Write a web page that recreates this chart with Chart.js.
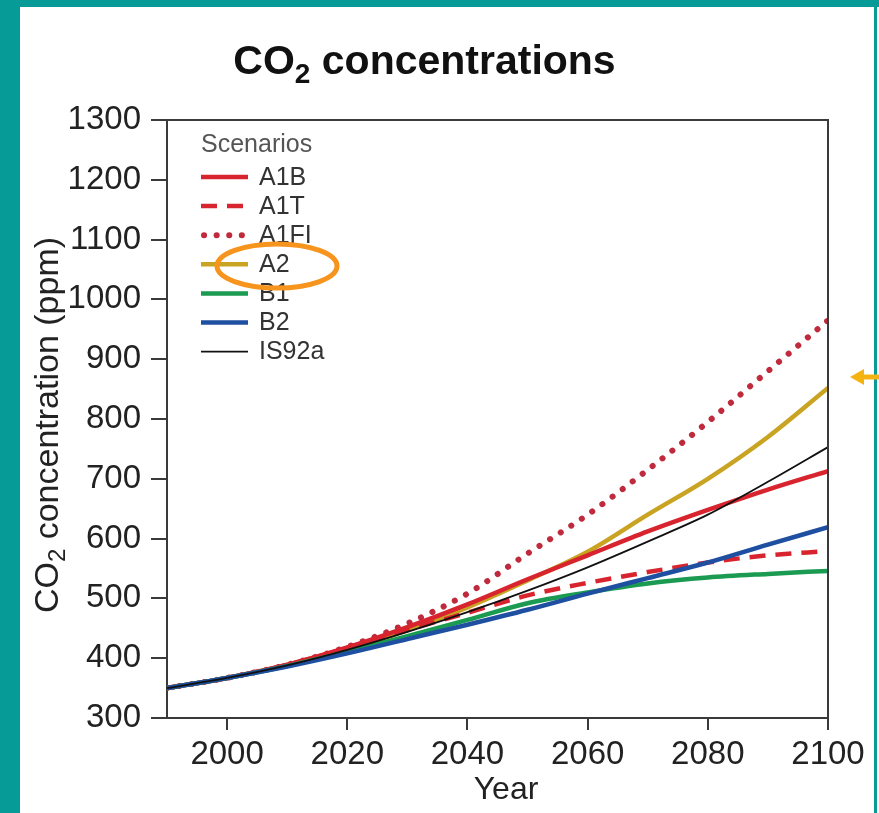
<!DOCTYPE html>
<html>
<head>
<meta charset="utf-8">
<script src="https://cdn.jsdelivr.net/npm/chart.js@4"></script>
<style>
html,body{margin:0;padding:0;background:#fff;}
#wrap{position:relative;width:879px;height:813px;}
canvas{display:block;}
</style>
</head>
<body>
<div id="wrap"><canvas id="c" width="879" height="813"></canvas></div>
<script>
// ---- data ----
const years = [1990, 2000, 2010, 2020, 2030, 2040, 2050, 2060, 2070, 2080, 2090, 2100];
const A1B   = [350, 367, 389, 418, 452, 490, 532, 572, 612, 648, 682, 713];
const A1T   = [350, 367, 389, 417, 447, 476, 505, 526, 544, 560, 572, 579];
const A1FI  = [350, 367, 389, 419, 458, 508, 575, 640, 715, 795, 880, 965];
const A2    = [350, 367, 388, 415, 447, 485, 530, 578, 640, 700, 770, 852];
const B1    = [350, 367, 387, 411, 437, 464, 492, 510, 525, 535, 541, 546];
const B2    = [350, 367, 386, 408, 432, 456, 481, 508, 534, 560, 590, 619];
const IS92a = [350, 367, 388, 414, 444, 477, 513, 552, 595, 640, 695, 753];

const xTicks = [2000, 2020, 2040, 2060, 2080, 2100];
const yTicks = [300, 400, 500, 600, 700, 800, 900, 1000, 1100, 1200, 1300];

const legendTitle = 'Scenarios';
const chartTitleMain = 'CO';
const chartTitleSub = '2';
const chartTitleRest = ' concentrations';
const yTitleMain = 'CO';
const yTitleSub = '2';
const yTitleRest = ' concentration (ppm)';
const xTitle = 'Year';

const FONT = "'Liberation Sans', Arial, Helvetica, sans-serif";

function pts(arr) { return years.map((y, i) => ({ x: y, y: arr[i] })); }

const datasets = [
  { label: 'A1B',   data: pts(A1B),   borderColor: '#d8242f', borderWidth: 4.5, borderDash: [], order: 4 },
  { label: 'A1T',   data: pts(A1T),   borderColor: '#d8242f', borderWidth: 4.5, borderDash: [16, 10], order: 3 },
  { label: 'A1FI',  data: pts(A1FI),  borderColor: '#bf2a3c', borderWidth: 6, borderDash: [0.1, 12.5], borderCapStyle: 'round', order: 6 },
  { label: 'A2',    data: pts(A2),    borderColor: '#c9a322', borderWidth: 4.5, borderDash: [], order: 5 },
  { label: 'B1',    data: pts(B1),    borderColor: '#1b9a52', borderWidth: 4.5, borderDash: [], order: 2 },
  { label: 'B2',    data: pts(B2),    borderColor: '#1f4fa0', borderWidth: 4.5, borderDash: [], order: 1 },
  { label: 'IS92a', data: pts(IS92a), borderColor: '#111111', borderWidth: 1.8, borderDash: [], order: 0 }
].map(d => Object.assign({ pointRadius: 0, fill: false, cubicInterpolationMode: 'monotone', tension: 0.4, borderCapStyle: d.borderCapStyle || 'butt' }, d));

const decor = {
  id: 'decor',
  beforeDraw(chart) {
    const ctx = chart.ctx;
    ctx.save();
    ctx.fillStyle = '#ffffff';
    ctx.fillRect(0, 0, chart.width, chart.height);
    ctx.fillStyle = '#079b98';
    ctx.fillRect(0, 0, 20, chart.height);
    ctx.fillRect(0, 0, chart.width, 7);
    ctx.fillRect(874, 0, 3, chart.height);
    ctx.restore();
  },
  afterDraw(chart) {
    const ctx = chart.ctx;
    const ca = chart.chartArea;
    ctx.save();
    // frame (top and right)
    ctx.strokeStyle = '#3a3a3a';
    ctx.lineWidth = 2;
    ctx.beginPath();
    ctx.moveTo(ca.left - 1, ca.top);
    ctx.lineTo(ca.right, ca.top);
    ctx.lineTo(ca.right, ca.bottom);
    ctx.stroke();

    // title with subscript
    ctx.fillStyle = '#111';
    ctx.textBaseline = 'alphabetic';
    ctx.textAlign = 'left';
    const fMain = 'bold 41px ' + FONT, fSub = 'bold 28px ' + FONT;
    ctx.font = fMain; const w1 = ctx.measureText(chartTitleMain).width; const w3 = ctx.measureText(chartTitleRest).width;
    ctx.font = fSub; const w2 = ctx.measureText(chartTitleSub).width;
    let tx = 424.5 - (w1 + w2 + w3) / 2; const ty = 74;
    ctx.font = fMain; ctx.fillText(chartTitleMain, tx, ty); tx += w1;
    ctx.font = fSub; ctx.fillText(chartTitleSub, tx, ty + 9); tx += w2;
    ctx.font = fMain; ctx.fillText(chartTitleRest, tx, ty);

    // y axis title (rotated)
    ctx.save();
    ctx.translate(46, 425);
    ctx.rotate(-Math.PI / 2);
    ctx.fillStyle = '#222';
    const yMain = '34px ' + FONT, ySub = '24px ' + FONT;
    ctx.font = yMain; const a1 = ctx.measureText(yTitleMain).width; const a3 = ctx.measureText(yTitleRest).width;
    ctx.font = ySub; const a2 = ctx.measureText(yTitleSub).width;
    let yx = -(a1 + a2 + a3) / 2; const yb = 12;
    ctx.font = yMain; ctx.fillText(yTitleMain, yx, yb); yx += a1;
    ctx.font = ySub; ctx.fillText(yTitleSub, yx, yb + 7); yx += a2;
    ctx.font = yMain; ctx.fillText(yTitleRest, yx, yb);
    ctx.restore();

    // x axis title
    ctx.fillStyle = '#222';
    ctx.font = '32px ' + FONT;
    ctx.textAlign = 'center';
    ctx.fillText(xTitle, 506, 799);

    // legend
    ctx.textAlign = 'left';
    ctx.textBaseline = 'middle';
    ctx.font = '25px ' + FONT;
    ctx.fillStyle = '#555';
    ctx.fillText(legendTitle, 201, 145);
    chart.data.datasets.forEach((ds, i) => {
      const y = 177 + i * 29.1;
      ctx.save();
      ctx.strokeStyle = ds.borderColor;
      ctx.lineWidth = ds.borderWidth;
      ctx.lineCap = ds.borderCapStyle || 'butt';
      ctx.setLineDash(ds.borderDash || []);
      ctx.beginPath();
      ctx.moveTo(ds.borderCapStyle === 'round' ? 204 : 201, y);
      ctx.lineTo(248, y);
      ctx.stroke();
      ctx.restore();
      ctx.fillStyle = '#333';
      ctx.fillText(ds.label, 259, y + 1);
    });

    // annotation: orange ellipse around A2
    ctx.strokeStyle = '#f7941d';
    ctx.lineWidth = 5;
    ctx.setLineDash([]);
    ctx.beginPath();
    ctx.ellipse(277, 266, 60, 22, 0, 0, Math.PI * 2);
    ctx.stroke();

    // annotation: arrow at right pointing to A2 end
    ctx.fillStyle = '#f5b312';
    ctx.beginPath();
    ctx.moveTo(850, 377);
    ctx.lineTo(864, 369);
    ctx.lineTo(864, 385);
    ctx.closePath();
    ctx.fill();
    ctx.fillRect(862, 374.5, 17, 5);
    ctx.restore();
  }
};

new Chart(document.getElementById('c'), {
  type: 'line',
  data: { datasets },
  options: {
    responsive: false,
    animation: false,
    devicePixelRatio: 1,
    layout: { padding: { top: 120, right: 51, left: 0, bottom: 0 } },
    plugins: { legend: { display: false }, title: { display: false }, tooltip: { enabled: false } },
    scales: {
      x: {
        type: 'linear', min: 1990, max: 2100,
        afterBuildTicks: s => { s.ticks = xTicks.map(v => ({ value: v })); },
        afterFit: s => { s.height = 95; },
        grid: { drawOnChartArea: false, drawTicks: true, tickLength: 12, color: '#3a3a3a', lineWidth: 2 },
        border: { display: true, color: '#3a3a3a', width: 2 },
        ticks: { font: { size: 33, family: FONT }, color: '#222', padding: 5, maxRotation: 0, autoSkip: false, callback: v => String(v) }
      },
      y: {
        type: 'linear', min: 300, max: 1300,
        afterBuildTicks: s => { s.ticks = yTicks.map(v => ({ value: v })); },
        afterFit: s => { s.width = 167; },
        grid: { drawOnChartArea: false, drawTicks: true, tickLength: 16, color: '#3a3a3a', lineWidth: 2 },
        border: { display: true, color: '#3a3a3a', width: 2 },
        ticks: { font: { size: 33, family: FONT }, color: '#222', padding: 10, autoSkip: false, callback: v => String(v) }
      }
    }
  },
  plugins: [decor]
});
</script>
</body>
</html>
